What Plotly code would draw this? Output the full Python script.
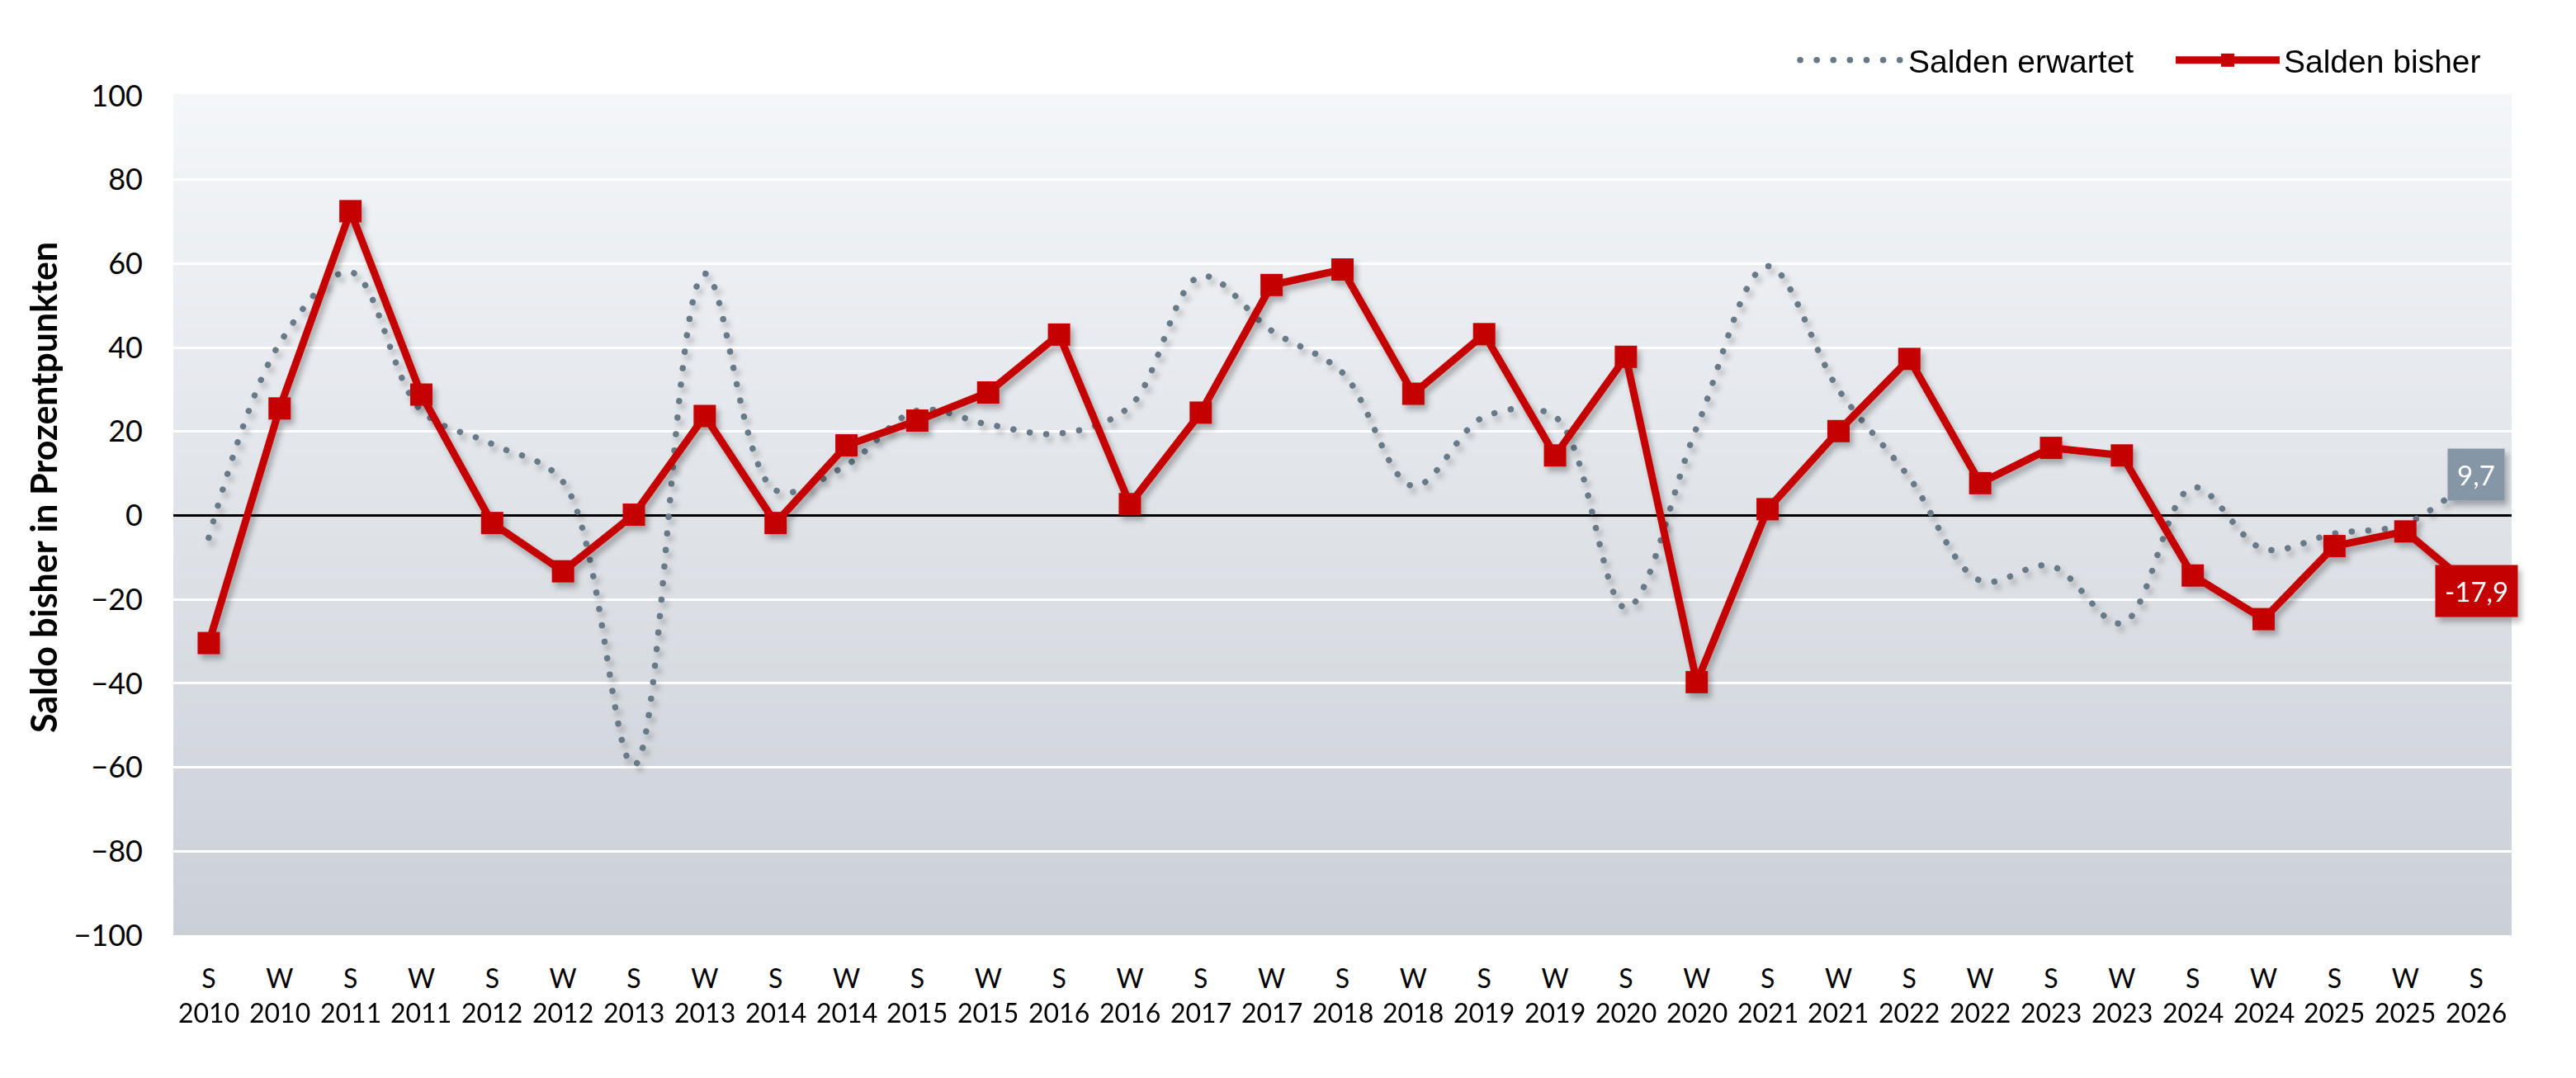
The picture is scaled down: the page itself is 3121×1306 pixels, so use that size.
import plotly.graph_objects as go

# ---------------- data ----------------
seasons = ["S", "W"] * 16 + ["S"]
years = [2010, 2010, 2011, 2011, 2012, 2012, 2013, 2013, 2014, 2014, 2015, 2015,
         2016, 2016, 2017, 2017, 2018, 2018, 2019, 2019, 2020, 2020, 2021, 2021,
         2022, 2022, 2023, 2023, 2024, 2024, 2025, 2025, 2026]
categories = [f"{s} {y}" for s, y in zip(seasons, years)]

salden_bisher = [-30.4, 25.5, 72.5, 28.8, -1.8, -13.3, 0.2, 23.7, -1.8, 16.7, 22.6,
                 29.3, 43.1, 2.7, 24.5, 54.9, 58.6, 29.0, 43.2, 14.3, 37.8, -39.7,
                 1.5, 20.1, 37.3, 7.7, 16.1, 14.3, -14.3, -24.7, -7.3, -3.8, -17.9]

salden_erwartet = [-5.3, 41.0, 58.0, 25.0, 17.0, 8.0, -59.5, 57.6, 6.0, 12.0, 25.0,
                   21.7, 19.5, 26.0, 57.0, 44.0, 34.0, 7.0, 23.5, 23.5, -22.0, 21.0,
                   59.4, 30.0, 9.0, -15.5, -12.0, -25.7, 6.7, -8.0, -4.3, -2.0, 9.7]

y_ticks = list(range(-100, 101, 20))
last_labels = ["9,7", "-17,9"]

RED = "#c40000"
GREY = "#677987"
FONT = "Lato, 'Open Sans', sans-serif"

fig = go.Figure()

fig.add_trace(go.Scatter(
    x=categories, y=salden_erwartet, name="Salden erwartet",
    mode="lines", line=dict(color=GREY, width=7.5, dash="6px,14px", shape="spline", smoothing=1),
    hoverinfo="skip",
))
fig.add_trace(go.Scatter(
    x=categories, y=salden_bisher, name="Salden bisher",
    mode="lines+markers",
    line=dict(color=RED, width=9),
    marker=dict(symbol="square", size=27, color=RED, line=dict(width=0)),
    hoverinfo="skip",
))

# background gradient bands (styling only)
top_rgb = (244, 246, 249)
bot_rgb = (203, 208, 215)
N = 80
for k in range(N):
    t = k / (N - 1)
    c = tuple(round(bot_rgb[i] + (top_rgb[i] - bot_rgb[i]) * t) for i in range(3))
    fig.add_shape(type="rect", xref="x domain", yref="y domain",
                  x0=0, x1=1, y0=k / N, y1=(k + 1) / N + 0.002,
                  fillcolor=f"rgb{c}", line=dict(width=0), layer="below")

# year row of the category axis
for cat, yr in zip(categories, years):
    fig.add_annotation(x=cat, y=0, xref="x", yref="paper", text=str(yr),
                       showarrow=False, xanchor="center", yanchor="middle", yshift=-93,
                       font=dict(family=FONT, size=32, color="black"))

# y-axis title
fig.add_annotation(x=0, y=(1133 - 591) / 1017, xref="paper", yref="paper",
                   text="<b>Saldo bisher in Prozentpunkten</b>", textangle=-90,
                   showarrow=False, xanchor="center", yanchor="middle", xshift=-158,
                   font=dict(family=FONT, size=43, color="black"))

# end labels
fig.add_annotation(x=categories[-1], y=salden_erwartet[-1], text=last_labels[0],
                   showarrow=False, xanchor="center", yanchor="middle",
                   bgcolor="#8597a6", borderpad=11,
                   font=dict(family=FONT, size=33, color="white"))
fig.add_annotation(x=categories[-1], y=salden_bisher[-1], text=last_labels[1],
                   showarrow=False, xanchor="center", yanchor="middle",
                   bgcolor=RED, borderpad=11,
                   font=dict(family=FONT, size=33, color="white"))

fig.update_layout(
    width=3121, height=1306, autosize=False,
    paper_bgcolor="white", plot_bgcolor="#e2e6eb",
    margin=dict(l=210, r=78, t=116, b=173),
    font=dict(family=FONT, color="black"),
    showlegend=True,
    legend=dict(orientation="h", xref="paper", yref="paper",
                x=(2176 - 210) / 2833, xanchor="left", y=1 + (116 - 73) / 1017, yanchor="middle",
                font=dict(family="'Liberation Sans', Arial, sans-serif", size=39),
                itemwidth=126, entrywidth=314, entrywidthmode="pixels",
                bgcolor="rgba(0,0,0,0)", traceorder="normal"),
    xaxis=dict(type="category", range=[-0.5, 32.5], showgrid=False, zeroline=False,
               showline=False, ticks="", ticklabelstandoff=31,
               tickmode="array", tickvals=categories, ticktext=seasons,
               tickfont=dict(family=FONT, size=32, color="black")),
    yaxis=dict(range=[-100, 100], tickvals=y_ticks, showgrid=True, gridcolor="white",
               gridwidth=3, zeroline=True, zerolinecolor="black", zerolinewidth=2.5,
               showline=False, ticks="", ticklabelstandoff=36,
               tickfont=dict(family=FONT, size=36, color="black")),
)

post = """
var gd = document.getElementById('{plot_id}');
try {
  var svg = gd.querySelector('svg.main-svg');
  var ns = 'http://www.w3.org/2000/svg';
  var defs = svg.querySelector('defs');
  var f = document.createElementNS(ns, 'filter');
  f.setAttribute('id', 'dshadow');
  f.setAttribute('x', '-20%'); f.setAttribute('y', '-20%');
  f.setAttribute('width', '140%'); f.setAttribute('height', '140%');
  var d = document.createElementNS(ns, 'feDropShadow');
  d.setAttribute('dx', '4'); d.setAttribute('dy', '6'); d.setAttribute('stdDeviation', '3.5');
  d.setAttribute('flood-color', '#000'); d.setAttribute('flood-opacity', '0.28');
  f.appendChild(d); defs.appendChild(f);
  var traces = gd.querySelectorAll('.scatterlayer .trace');
  traces.forEach(function(t){ t.setAttribute('filter', 'url(#dshadow)'); });
  if (traces.length) {
    var ln = traces[0].querySelector('.js-line');
    if (ln) { ln.style.strokeLinecap = 'round'; ln.style.strokeDasharray = '0.1px,20px'; }
  }
  var lg = gd.querySelectorAll('.legend .traces');
  if (lg.length) {
    var l2 = lg[0].querySelector('.js-line');
    if (l2) { l2.style.strokeLinecap = 'round'; l2.style.strokeDasharray = '0.1px,20px'; }
  }
  var anns = gd.querySelectorAll('.annotation');
  if (anns.length >= 2) {
    anns[anns.length - 1].setAttribute('filter', 'url(#dshadow)');
    anns[anns.length - 2].setAttribute('filter', 'url(#dshadow)');
  }
} catch (e) {}
"""

fig.write_html("out.html", config={"displayModeBar": False, "staticPlot": True}, post_script=post)
